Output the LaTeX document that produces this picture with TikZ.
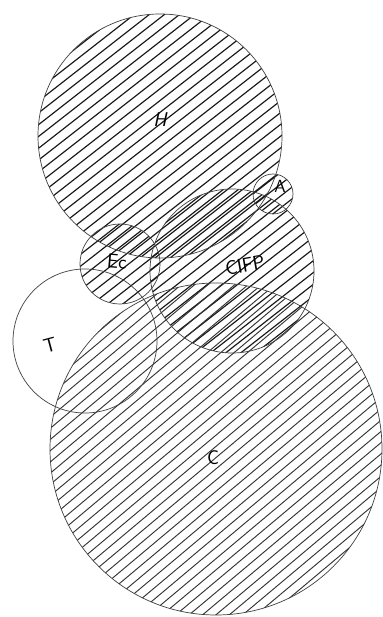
\documentclass[tikz,border=0pt]{standalone}
\usepackage{fontspec}
\usepackage{tikz}
\usetikzlibrary{positioning}

% hatching of one circle: centre, radius, phase, spacing, angle, style
\newcommand{\hatchcirc}[6]{%
  \begin{scope}
    \clip (#1) circle[radius=#2];
    \begin{scope}[shift={(#1)}, rotate=#5]
      \foreach \k in {-20,...,20}
        \draw[#6] (-#2-5, \k*#4+#3) -- (#2+5, \k*#4+#3);
    \end{scope}
  \end{scope}}

\begin{document}
\begin{tikzpicture}[x=0.03cm, y=0.03cm,
  hatch/.style={line width=1pt, draw=black!90},
  hatchthin/.style={line width=0.8pt, draw=black!80},
  rim/.style={line width=0.6pt, draw=black!75},
  lab/.style={font=\fontsize{17}{17}\selectfont\sffamily, inner sep=0pt}]
\useasboundingbox (0,0) rectangle (382,617);
% --- centres ---
\coordinate (H) at (160,481);
\coordinate (A) at (273,423);
\coordinate (Ec) at (120,353);
\coordinate (CIFP) at (232,346);
\coordinate (T) at (85,276);
\coordinate (C) at (216,168);
% --- hatched sets ---
\hatchcirc{H}{122}{0}{9.3}{38}{hatch}
\hatchcirc{A}{20}{3}{9.3}{38}{hatch}
\hatchcirc{Ec}{40}{4}{9.3}{38}{hatch}
\hatchcirc{CIFP}{82}{4.5}{9.3}{38}{hatch}
\hatchcirc{C}{166}{2}{8.6}{40}{hatchthin}
% --- outlines ---
\draw[rim] (H) circle[radius=122];
\draw[rim] (A) circle[radius=20];
\draw[rim] (Ec) circle[radius=40];
\draw[rim] (CIFP) circle[radius=82];
\draw[rim] (T) circle[radius=72];
\draw[rim] (C) circle[radius=166];
% --- labels ---
\node[lab, font=\fontsize{17}{17}\selectfont\sffamily\itshape] (lH) at (160,497) {H};
\node[lab, font=\fontsize{15}{15}\selectfont\sffamily] (lA) at (280,431) {A};
\node[lab, rotate=-5] (lEc) at (117,355) {Ec};
\node[lab, rotate=10] (lCIFP) at (245,352) {CIFP};
\node[lab, rotate=15] (lT) at (50,272) {T};
\node[lab] (lC) at (213,159) {C};
\end{tikzpicture}
\end{document}
